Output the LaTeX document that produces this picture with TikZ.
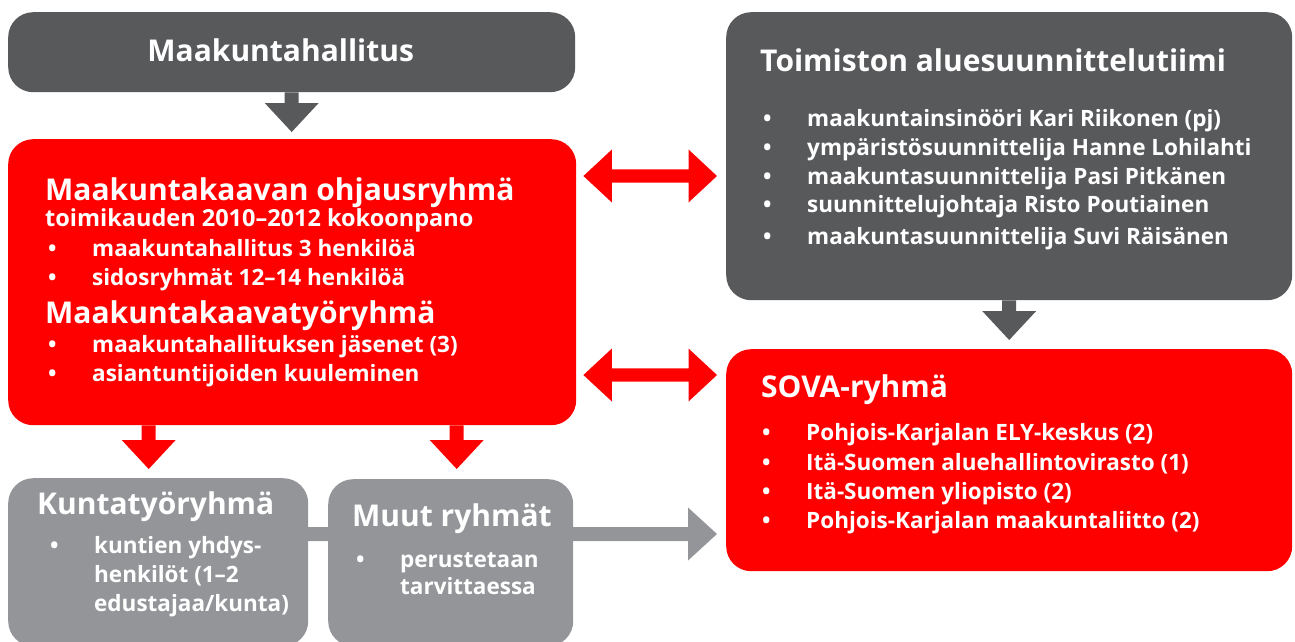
\documentclass[tikz,border=0pt]{standalone}
\usepackage{fontspec}
\setmainfont{Open Sans}
\usetikzlibrary{calc}
\definecolor{dgray}{HTML}{58595B}
\definecolor{lgray}{HTML}{939598}
\definecolor{kred}{HTML}{FF0000}
\newcommand{\ttlfont}{\fontsize{30}{30}\selectfont\bfseries}
\newcommand{\subfont}{\fontsize{23.5}{23.5}\selectfont\bfseries}
\newcommand{\itmfont}{\fontsize{22.5}{22.5}\selectfont\bfseries}
\newcommand{\bl}{\makebox[44pt][l]{\textbullet}}
\newcommand{\blockdown}[3]{%
  \fill[#1] let \p1=(#2), \p2=(#3) in
    (\x1-7pt,\y1) -- (\x1-7pt,\y2+29pt) -- (\x1-27pt,\y2+29pt) -- (\x1,\y2)
    -- (\x1+27pt,\y2+29pt) -- (\x1+7pt,\y2+29pt) -- (\x1+7pt,\y1) -- cycle;}
\newcommand{\blockright}[3]{%
  \fill[#1] let \p1=(#2), \p2=(#3) in
    (\x1,\y1+7pt) -- (\x2-29pt,\y1+7pt) -- (\x2-29pt,\y1+26.5pt) -- (\x2,\y1)
    -- (\x2-29pt,\y1-26.5pt) -- (\x2-29pt,\y1-7pt) -- (\x1,\y1-7pt) -- cycle;}
\newcommand{\blockboth}[3]{%
  \fill[#1] let \p1=(#2), \p2=(#3) in
    (\x1,\y1) -- (\x1+28.5pt,\y1+26.5pt) -- (\x1+28.5pt,\y1+6.7pt) -- (\x2-28.5pt,\y1+6.7pt)
    -- (\x2-28.5pt,\y1+26.5pt) -- (\x2,\y1) -- (\x2-28.5pt,\y1-26.5pt) -- (\x2-28.5pt,\y1-6.7pt)
    -- (\x1+28.5pt,\y1-6.7pt) -- (\x1+28.5pt,\y1-26.5pt) -- cycle;}
\tikzset{
  box/.style={rounded corners=25pt, inner sep=0pt, anchor=north west},
  ttl/.style={anchor=base west, inner sep=0pt, text=white, font=\ttlfont},
  sub/.style={anchor=base west, inner sep=0pt, text=white, font=\subfont},
  itm/.style={anchor=base west, inner sep=0pt, text=white, font=\itmfont},
}
\begin{document}
\begin{tikzpicture}[x=1pt,y=-1pt]
\useasboundingbox (0,0) rectangle (1295,642);
\begin{scope}
\clip (0,0) rectangle (1295,642);
% boxes
\node[box, fill=dgray, minimum width=567pt, minimum height=80pt] (mh) at (8,12) {};
\node[box, fill=kred, minimum width=568pt, minimum height=286pt] (ohj) at (8,139) {};
\node[box, fill=dgray, minimum width=566pt, minimum height=288pt] (ats) at (726,12) {};
\node[box, fill=kred, minimum width=566pt, minimum height=222pt] (sova) at (726,349) {};
\node[box, fill=lgray, minimum width=300pt, minimum height=168pt] (kunta) at (8,478) {};

% connectors
\coordinate (gstart) at ($(kunta.north east)+(-10,56)$);
\coordinate (gend) at ($(sova.west)+(-9,0)$);
\blockright{lgray}{gstart}{gend}
\node[box, fill=lgray, minimum width=245pt, minimum height=167pt] (muut) at (328,479) {};

\blockdown{dgray}{mh.south}{[yshift=7pt]ohj.north}
\blockdown{dgray}{ats.south}{[yshift=9pt]sova.north}
\blockdown{kred}{[xshift=-143.5pt]ohj.south}{[yshift=9pt]kunta.north}
\blockdown{kred}{[xshift=164.5pt]ohj.south}{[yshift=9pt]kunta.north}
\coordinate (d1a) at ($(ohj.north east)+(7,37)$);
\coordinate (d1b) at ($(ats.north west)+(-9,164)$);
\coordinate (d2a) at ($(ohj.north east)+(7,236)$);
\coordinate (d2b) at ($(sova.north west)+(-9,26)$);
\blockboth{kred}{d1a}{d1b}
\blockboth{kred}{d2a}{d2b}
\end{scope}

% texts
\node[ttl, anchor=base] (mht) at ($(mh.north)+(-11,50)$) {Maakuntahallitus};

\node[ttl] (ohjt) at (45,200) {Maakuntakaavan ohjausryhmä};
\node[sub] (ohjs) at (45,226.7) {toimikauden 2010–2012 kokoonpano};
\node[itm] (ohj1) at (48,256.7) {\bl maakuntahallitus 3 henkilöä};
\node[itm] (ohj2) at (48,285) {\bl sidosryhmät 12–14 henkilöä};
\node[ttl] (mkt) at (45,323.3) {Maakuntakaavatyöryhmä};
\node[itm] (mkt1) at (48,352.7) {\bl maakuntahallituksen jäsenet (3)};
\node[itm] (mkt2) at (48,381.7) {\bl asiantuntijoiden kuuleminen};

\node[ttl] (atst) at (760,71.7) {Toimiston aluesuunnittelutiimi};
\node[itm] (ats1) at (763,126.7) {\bl maakuntainsinööri Kari Riikonen (pj)};
\node[itm] (ats2) at (763,155.7) {\bl ympäristösuunnittelija Hanne Lohilahti};
\node[itm] (ats3) at (763,184.3) {\bl maakuntasuunnittelija Pasi Pitkänen};
\node[itm] (ats4) at (763,212.7) {\bl suunnittelujohtaja Risto Poutiainen};
\node[itm] (ats5) at (763,244.3) {\bl maakuntasuunnittelija Suvi Räisänen};

\node[ttl] (sovat) at (761,397) {SOVA-ryhmä};
\node[itm] (sova1) at (762,440.7) {\bl Pohjois-Karjalan ELY-keskus (2)};
\node[itm] (sova2) at (762,470) {\bl Itä-Suomen aluehallintovirasto (1)};
\node[itm] (sova3) at (762,499) {\bl Itä-Suomen yliopisto (2)};
\node[itm] (sova4) at (762,528) {\bl Pohjois-Karjalan maakuntaliitto (2)};

\node[ttl] (kuntat) at (37,514) {Kuntatyöryhmä};
\node[itm] (kunta1) at (50,553) {\bl kuntien yhdys-};
\node[itm] (kunta2) at (94,582) {henkilöt (1–2};
\node[itm] (kunta3) at (94,611) {edustajaa/kunta)};

\node[ttl] (muutt) at (352,526) {Muut ryhmät};
\node[itm] (muut1) at (356,567) {\bl perustetaan};
\node[itm] (muut2) at (400,594) {tarvittaessa};
\end{tikzpicture}
\end{document}
